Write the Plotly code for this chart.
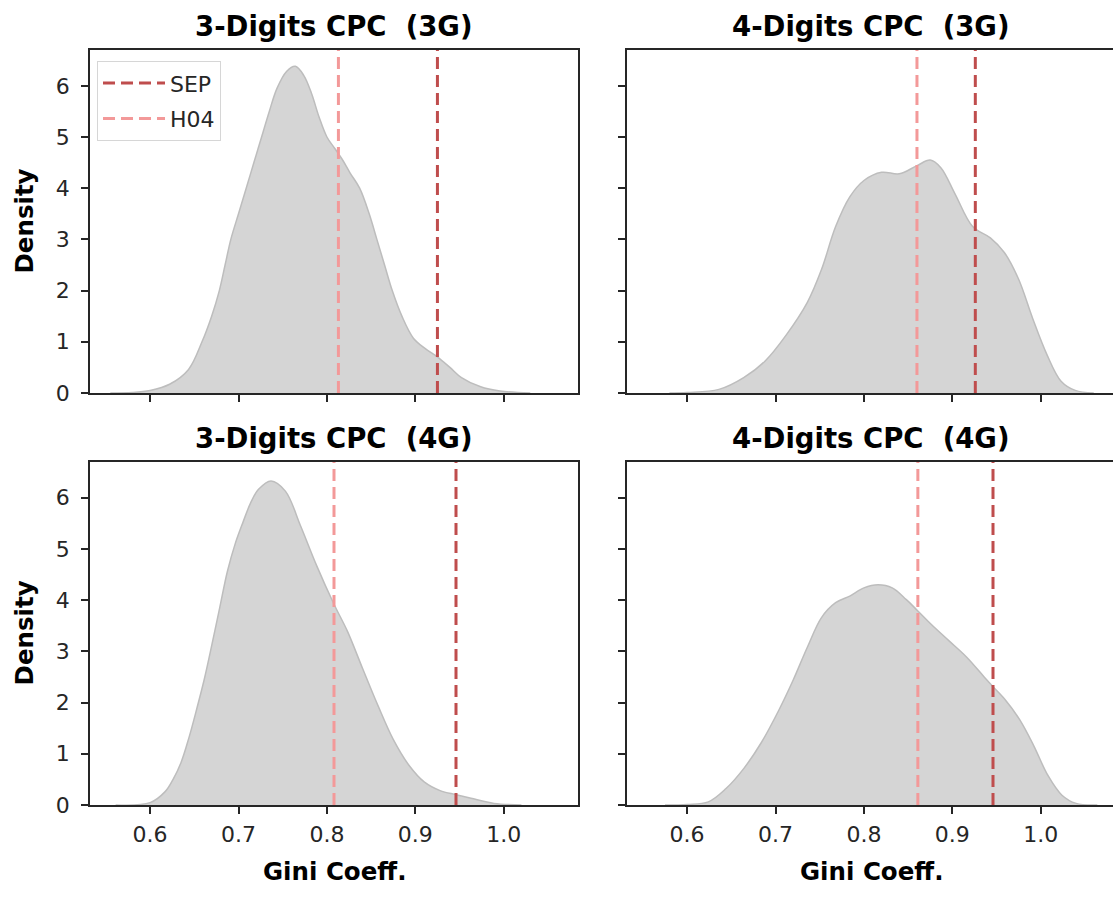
import plotly.graph_objects as go

# ---------------- data ----------------
titles = ["3-Digits CPC  (3G)", "4-Digits CPC  (3G)", "3-Digits CPC  (4G)", "4-Digits CPC  (4G)"]

d3_g3_x = [0.555, 0.58, 0.60, 0.622, 0.6435, 0.6587, 0.6696, 0.6783, 0.6848, 0.6913, 0.70, 0.7087,
           0.7174, 0.7261, 0.7348, 0.7435, 0.7543, 0.7643, 0.7739, 0.7826, 0.7913, 0.80, 0.8087,
           0.8174, 0.8261, 0.837, 0.8478, 0.8565, 0.8652, 0.8739, 0.8848, 0.8978, 0.9109, 0.9252,
           0.9391, 0.9522, 0.9739, 0.9957, 1.03]
d3_g3_y = [0.0, 0.01, 0.05, 0.17, 0.46, 1.0, 1.5, 2.0, 2.5, 3.0, 3.5, 4.0,
           4.5, 5.0, 5.5, 5.95, 6.28, 6.38, 6.2, 5.85, 5.38, 5.0, 4.78,
           4.56, 4.3, 4.0, 3.5, 3.0, 2.5, 2.0, 1.5, 1.07, 0.87, 0.7,
           0.5, 0.3, 0.12, 0.04, 0.0]

d4_g3_x = [0.58, 0.60, 0.636, 0.664, 0.688, 0.712, 0.736, 0.752, 0.768, 0.784, 0.80, 0.82, 0.84,
           0.86, 0.875, 0.887, 0.903, 0.923, 0.943, 0.959, 0.975, 0.991, 1.007, 1.023, 1.039, 1.06]
d4_g3_y = [0.0, 0.01, 0.07, 0.3, 0.62, 1.13, 1.77, 2.41, 3.25, 3.83, 4.15, 4.31, 4.28,
           4.44, 4.55, 4.4, 3.89, 3.25, 3.03, 2.74, 2.22, 1.45, 0.75, 0.23, 0.05, 0.0]

d3_g4_x = [0.561, 0.60, 0.617, 0.626, 0.635, 0.6437, 0.6525, 0.6612, 0.670, 0.6787, 0.6874, 0.6962,
           0.705, 0.7137, 0.7224, 0.7368, 0.753, 0.770, 0.788, 0.808, 0.823, 0.840, 0.858, 0.875,
           0.893, 0.910, 0.928, 0.946, 0.963, 0.989, 1.02]
d3_g4_y = [0.0, 0.045, 0.26, 0.5, 0.83, 1.3, 1.86, 2.45, 3.14, 3.85, 4.56, 5.1,
           5.52, 5.9, 6.16, 6.33, 6.13, 5.46, 4.69, 3.92, 3.4, 2.68, 1.93, 1.28,
           0.77, 0.45, 0.28, 0.2, 0.13, 0.03, 0.0]

d4_g4_x = [0.575, 0.60, 0.624, 0.644, 0.664, 0.684, 0.704, 0.72, 0.736, 0.752, 0.768, 0.784, 0.80,
           0.816, 0.832, 0.848, 0.861, 0.876, 0.896, 0.916, 0.936, 0.946, 0.96, 0.976, 0.992,
           1.008, 1.024, 1.04, 1.064]
d4_g4_y = [0.0, 0.01, 0.06, 0.32, 0.71, 1.22, 1.86, 2.44, 3.08, 3.66, 3.95, 4.08, 4.24,
           4.30, 4.24, 4.01, 3.79, 3.53, 3.21, 2.89, 2.50, 2.31, 2.05, 1.67, 1.16,
           0.58, 0.19, 0.03, 0.0]

sep_values = [0.925, 0.926, 0.946, 0.946]
h04_values = [0.813, 0.860, 0.808, 0.861]

x_ticks = [0.6, 0.7, 0.8, 0.9, 1.0]
x_tick_labels = ["0.6", "0.7", "0.8", "0.9", "1.0"]
y_ticks = [0, 1, 2, 3, 4, 5, 6]
y_tick_labels = ["0", "1", "2", "3", "4", "5", "6"]

curves = [(d3_g3_x, d3_g3_y), (d4_g3_x, d4_g3_y), (d3_g4_x, d3_g4_y), (d4_g4_x, d4_g4_y)]

# ---------------- layout geometry ----------------
W, H = 1113, 903
Y_MAX = 6.7
FONT = "DejaVu Sans"
INK = "#262626"
SEP_COLOR = "#bf4d4d"
H04_COLOR = "#f39999"

col_px = [(90, 578), (627, 1113)]
row_px = [(50.7, 398.7), (468.7, 816.7)]
px_per_unit = (578 - 90) / (1.084 - 0.532)
x_ranges = [[0.532, 1.084], [0.532, 0.532 + (1113 - 627) / px_per_unit]]

fig = go.Figure()

for i, (cx, cy) in enumerate(curves):
    r, c = divmod(i, 2)
    n = "" if i == 0 else str(i + 1)
    xa, ya = "x" + n, "y" + n
    fig.add_trace(go.Scatter(
        x=cx, y=cy, xaxis=xa, yaxis=ya, mode="lines",
        line=dict(color="#bdbdbd", width=1.5, shape="spline", smoothing=1.0),
        fill="tozeroy", fillcolor="#d5d5d5", showlegend=False, hoverinfo="skip"))
    fig.add_trace(go.Scatter(
        x=[sep_values[i], sep_values[i]], y=[0, Y_MAX], xaxis=xa, yaxis=ya, mode="lines",
        line=dict(color=SEP_COLOR, width=3, dash="12px,6px"),
        name="SEP", legendgroup="sep", showlegend=(i == 0)))
    fig.add_trace(go.Scatter(
        x=[h04_values[i], h04_values[i]], y=[0, Y_MAX], xaxis=xa, yaxis=ya, mode="lines",
        line=dict(color=H04_COLOR, width=3, dash="12px,6px"),
        name="H04", legendgroup="h04", showlegend=(i == 0)))

    x0, x1 = col_px[c]
    y0, y1 = row_px[r]
    xkey = "xaxis" + n
    ykey = "yaxis" + n
    fig.layout[xkey] = dict(
        domain=[x0 / W, x1 / W], range=x_ranges[c], anchor=ya,
        tickvals=x_ticks, ticktext=x_tick_labels, showticklabels=(r == 1),
        ticks="outside", ticklen=7, tickwidth=1.5, tickcolor=INK,
        ticklabelstandoff=2,
        showline=True, linecolor=INK, linewidth=1.5, mirror=True,
        showgrid=False, zeroline=False,
        tickfont=dict(family=FONT, size=22, color=INK))
    fig.layout[ykey] = dict(
        domain=[1 - y1 / H, 1 - y0 / H], range=[0, Y_MAX], anchor=xa,
        tickvals=y_ticks, ticktext=y_tick_labels, showticklabels=(c == 0),
        ticks="outside", ticklen=7, tickwidth=1.5, tickcolor=INK,
        ticklabelstandoff=7,
        showline=True, linecolor=INK, linewidth=1.5, mirror=(c == 0),
        showgrid=False, zeroline=False,
        tickfont=dict(family=FONT, size=22, color=INK))

    # subplot title
    fig.add_annotation(
        text="<b>" + titles[i] + "</b>", xref="paper", yref="paper",
        x=(x0 + (x0 + 488)) / 2 / W, y=1 - (y0 - 24) / H,
        xanchor="center", yanchor="middle", showarrow=False,
        font=dict(family=FONT, size=27.5, color="black"))

    if c == 0:
        fig.add_annotation(
            text="<b>Density</b>", xref="paper", yref="paper",
            x=24 / W, y=1 - (y0 + y1) / 2 / H, textangle=-90,
            xanchor="center", yanchor="middle", showarrow=False,
            font=dict(family=FONT, size=24.5, color="black"))
    if r == 1:
        fig.add_annotation(
            text="<b>Gini Coeff.</b>", xref="paper", yref="paper",
            x=(x0 + (x0 + 488)) / 2 / W, y=1 - 884 / H,
            xanchor="center", yanchor="middle", showarrow=False,
            font=dict(family=FONT, size=24.5, color="black"))

fig.update_layout(
    width=W, height=H, margin=dict(l=0, r=0, t=0, b=0),
    paper_bgcolor="white", plot_bgcolor="white",
    font=dict(family=FONT, color=INK),
    legend=dict(x=97 / W, y=1 - 62 / H, xanchor="left", yanchor="top",
                bgcolor="white", bordercolor="#d6d6d6", borderwidth=1,
                font=dict(family=FONT, size=22, color=INK),
                tracegroupgap=4, itemwidth=62),
)

fig.write_html("out.html", config={"displayModeBar": False},
               post_script="document.body.style.margin='0';document.body.style.overflow='hidden';")
